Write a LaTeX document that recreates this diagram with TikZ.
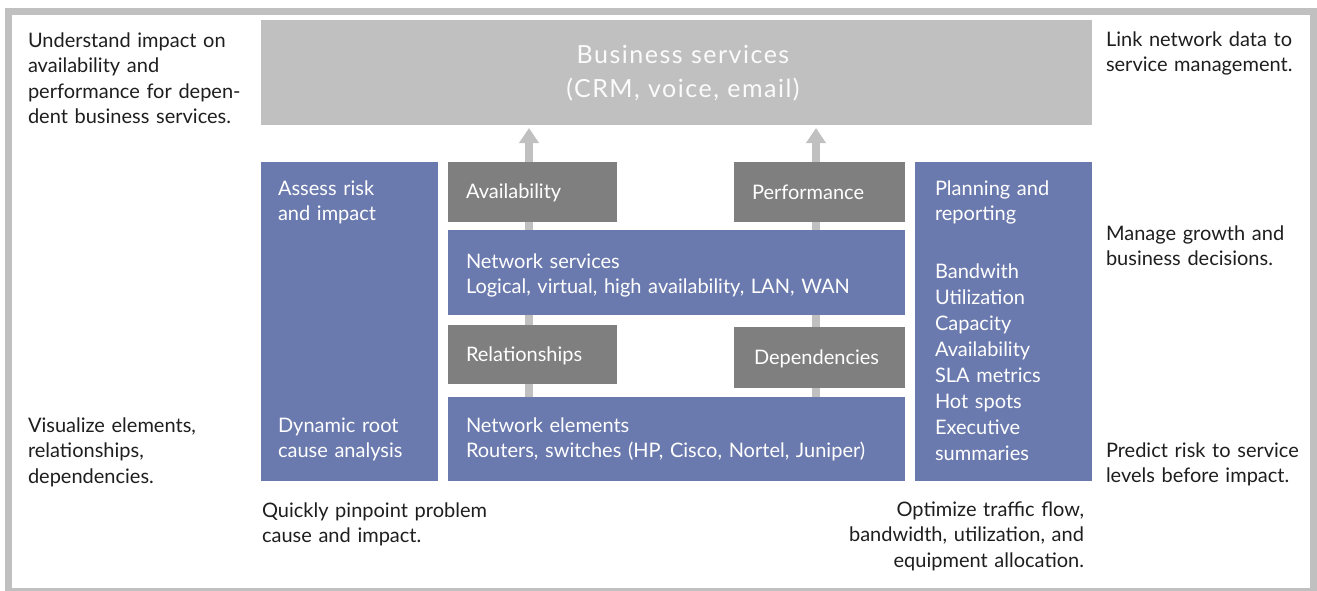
\documentclass[tikz,border=0pt]{standalone}
\usepackage{fontspec}
\setmainfont{Lato}
\usetikzlibrary{arrows.meta,backgrounds}
\definecolor{hpblue}{HTML}{6B7AAE}
\definecolor{dgray}{HTML}{7F7F7F}
\definecolor{lgray}{HTML}{C0C0C0}
\definecolor{ink}{HTML}{1E1E1E}
\begin{document}
\begin{tikzpicture}[x=1pt,y=-1pt,
  boxbase/.style={inner sep=0pt, outer sep=0pt, anchor=north west, draw=none},
  bluebox/.style={boxbase, fill=hpblue},
  graybox/.style={boxbase, fill=dgray},
  bizbox/.style={boxbase, fill=lgray},
  txt/.style={font=\fontsize{20}{25.5}\selectfont, text=ink, inner sep=0pt, outer sep=0pt, anchor=base west, align=left, text width=#1},
  txt/.default=300pt,
  wtxt/.style={txt=#1, text=white},
  wtxt/.default=300pt,
  arr/.style={draw=lgray, line width=7.5pt, -{Triangle[width=19pt,length=15pt]}},
]
\useasboundingbox (0,0) rectangle (1317,590);
% boxes
\node[bizbox, minimum width=831pt, minimum height=105pt] (biz) at (261,20) {};
\node[bluebox, minimum width=177pt, minimum height=319pt] (assess) at (261,162) {};
\node[graybox, minimum width=169pt, minimum height=60pt] (avail) at (448,162) {};
\node[graybox, minimum width=171pt, minimum height=60pt] (perf) at (734,162) {};
\node[bluebox, minimum width=177pt, minimum height=319pt] (plan) at (915,162) {};
\node[bluebox, minimum width=457pt, minimum height=85pt] (netsvc) at (448,230) {};
\node[graybox, minimum width=169pt, minimum height=59pt] (rel) at (448,325) {};
\node[graybox, minimum width=171pt, minimum height=61pt] (dep) at (734,327) {};
\node[bluebox, minimum width=457pt, minimum height=84pt] (netel) at (448,397) {};
% arrows and frame on background
\coordinate (lx) at (529,0);
\coordinate (rx) at (816,0);
\begin{scope}[on background layer]
  \draw[draw=lgray, line width=7pt] (8,11.5) rectangle (1313.5,591);
  \draw[arr, shorten >=3pt] (lx |- netel.north) -- (lx |- biz.south);
  \draw[arr, shorten >=3pt] (rx |- netel.north) -- (rx |- biz.south);
\end{scope}
% business services text
\node[inner sep=0pt, anchor=base, align=center, text width=420pt, text=white!94!lgray,
      font=\fontsize{25}{34}\selectfont\addfontfeature{LetterSpace=6}] (biztxt) at (683,63)
      {Business services\\(CRM, voice, email)};
% box texts
\node[wtxt=160pt] (t1) at (278,195) {Assess risk\\and impact};
\node[wtxt=160pt] (t2) at (278,432) {Dynamic root\\cause analysis};
\node[wtxt=150pt] (t3) at (466,198) {Availability};
\node[wtxt=150pt] (t4) at (752,199) {Performance};
\node[wtxt=440pt] (t5) at (466,268) {Network services\\Logical, virtual, high availability, LAN, WAN};
\node[wtxt=150pt] (t6) at (466,361) {Relationships};
\node[wtxt=150pt] (t7) at (754,364) {Dependencies};
\node[wtxt=440pt] (t8) at (466,432) {Network elements\\Routers, switches (HP, Cisco, Nortel, Juniper)};
\node[wtxt=160pt] (t9) at (935,195) {Planning and\\reporting};
\node[wtxt=160pt, font=\fontsize{20}{26}\selectfont] (t10) at (935,278)
  {Bandwith\\Utilization\\Capacity\\Availability\\SLA metrics\\Hot spots\\Executive\\summaries};
% side texts
\node[txt=230pt] (s1) at (28,47) {Understand impact on\\availability and\\performance for depen-\\dent business services.};
\node[txt=230pt] (s2) at (28,432) {Visualize elements,\\relationships,\\dependencies.};
\node[txt=210pt] (s3) at (1106,46) {Link network data to\\service management.};
\node[txt=210pt] (s4) at (1106,240) {Manage growth and\\business decisions.};
\node[txt=210pt] (s5) at (1106,457) {Predict risk to service\\levels before impact.};
\node[txt=260pt] (s6) at (262,517) {Quickly pinpoint problem\\cause and impact.};
\node[txt=260pt, align=right, anchor=base east] (s7) at (1084,516) {Optimize traffic flow,\\bandwidth, utilization, and\\equipment allocation.};
\end{tikzpicture}
\end{document}
